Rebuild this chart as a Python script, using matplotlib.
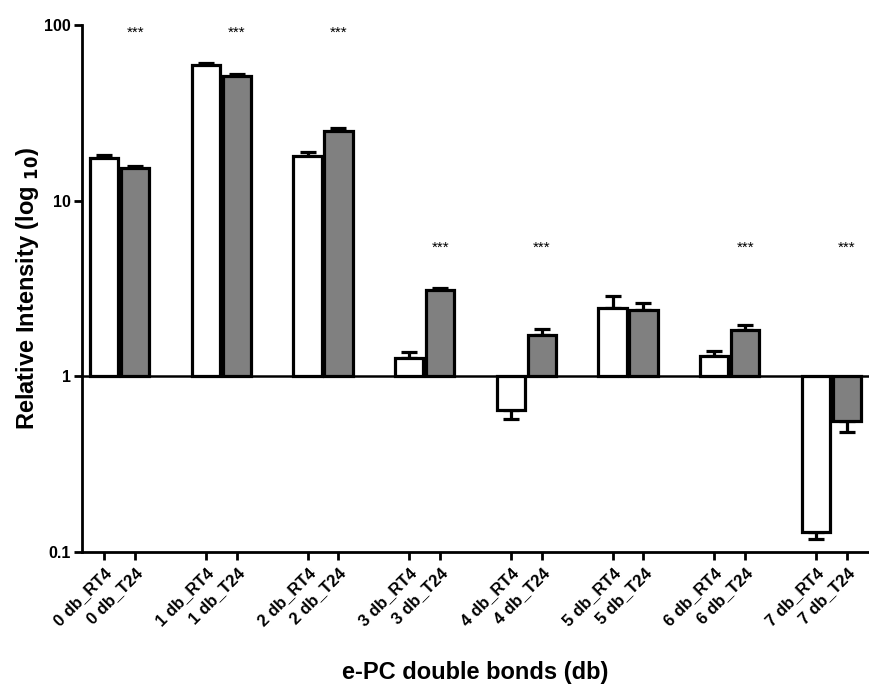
import numpy as np
import matplotlib
matplotlib.use('Agg')
import matplotlib.pyplot as plt
from matplotlib.ticker import FixedLocator, FixedFormatter, NullLocator

plt.rcParams['font.family'] = ['Liberation Sans', 'DejaVu Sans']
plt.rcParams['font.weight'] = 'bold'

# données
groups = ['0 db', '1 db', '2 db', '3 db', '4 db', '5 db', '6 db', '7 db']
rt4 = [17.5, 59.3, 18.0, 1.27, 0.64, 2.44, 1.30, 0.130]
rt4_err = [18.2, 60.8, 18.8, 1.37, 0.57, 2.87, 1.40, 0.118]
t24 = [15.4, 51.3, 25.0, 3.12, 1.71, 2.39, 1.84, 0.557]
t24_err = [15.8, 52.2, 26.0, 3.18, 1.87, 2.62, 1.97, 0.483]
stars_top = [0, 1, 2]
stars_mid = [3, 4, 6, 7]

x = np.arange(len(groups))
off = 0.152
w = 0.28

fig = plt.figure(figsize=(8.69, 6.91), dpi=100)
ax = fig.add_axes([0.0944, 0.201, 0.9056, 0.763])
ax.set_yscale('log')

def draw(xs, vals, errs, color):
    vals = np.array(vals)
    errs = np.array(errs)
    ax.bar(xs, vals - 1, bottom=1, width=w, color=color, edgecolor='black',
           linewidth=2.3, zorder=3)
    up = np.where(vals >= 1, errs - vals, 0)
    lo = np.where(vals < 1, vals - errs, 0)
    ax.errorbar(xs, vals, yerr=[lo, up], fmt='none', ecolor='black',
                elinewidth=2.3, capsize=6, capthick=2.3, zorder=2)

draw(x - off, rt4, rt4_err, 'white')
draw(x + off, t24, t24_err, '#808080')

ax.axhline(1, color='black', linewidth=1.8, zorder=4)

for i in stars_top:
    ax.text(x[i] + off, 90, '***', ha='center', va='center', fontsize=11, weight='normal')
for i in stars_mid:
    ax.text(x[i] + off, 5.4, '***', ha='center', va='center', fontsize=11, weight='normal')

ax.set_ylim(0.1, 100)
ax.set_xlim(-0.37, 7.37)
ax.yaxis.set_major_locator(FixedLocator([0.1, 1, 10, 100]))
ax.yaxis.set_major_formatter(FixedFormatter(['0.1', '1', '10', '100']))
ax.yaxis.set_minor_locator(NullLocator())

pos = []
labels = []
for i, g in enumerate(groups):
    pos += [x[i] - off, x[i] + off]
    labels += [g + '_RT4', g + '_T24']
ax.set_xticks(pos)
ax.set_xticklabels(labels, rotation=45, ha='right', rotation_mode='anchor',
                   fontsize=12, weight='bold')

ax.tick_params(axis='both', direction='out', width=2, length=6)
ax.tick_params(axis='y', labelsize=11.5, pad=2)
for lab in ax.get_yticklabels():
    lab.set_fontweight('bold')

for s in ['top', 'right']:
    ax.spines[s].set_visible(False)
ax.spines['left'].set_linewidth(2)
ax.spines['bottom'].set_linewidth(2)

ax.set_ylabel('Relative Intensity (log $_{\\mathbf{10}}$)', fontsize=17, weight='bold', labelpad=2)
ax.set_xlabel('e-PC double bonds (db)', fontsize=17, weight='bold', labelpad=23)

fig.savefig('out.png', dpi=100)
